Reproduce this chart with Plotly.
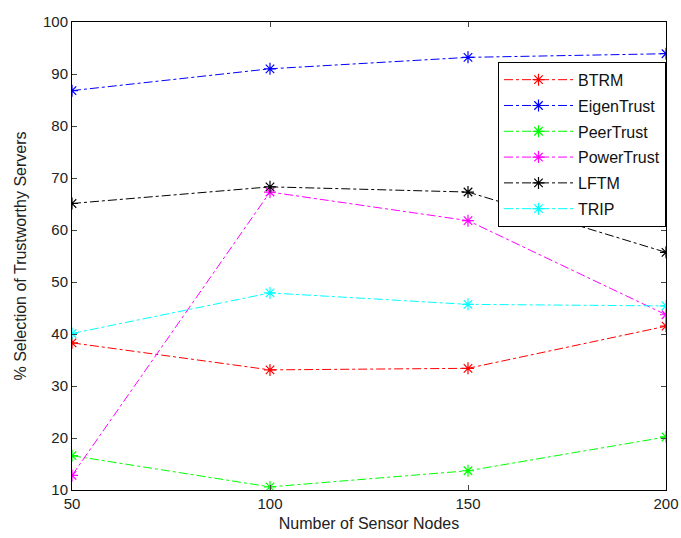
import plotly.graph_objects as go

# Number of sensor nodes in the network
nodes = [50, 100, 150, 200]

# % selection of trustworthy servers per trust model
btrm = [38.3, 33.1, 33.4, 41.5]
eigentrust = [86.8, 91.0, 93.2, 93.9]
peertrust = [16.6, 10.6, 13.7, 20.2]
powertrust = [12.8, 67.3, 61.8, 43.7]
lftm = [65.1, 68.3, 67.3, 55.7]
trip = [40.1, 47.9, 45.7, 45.4]

series = [
    ("BTRM", btrm, "#ff0000"),
    ("EigenTrust", eigentrust, "#0000ff"),
    ("PeerTrust", peertrust, "#00ff00"),
    ("PowerTrust", powertrust, "#ff00ff"),
    ("LFTM", lftm, "#000000"),
    ("TRIP", trip, "#00ffff"),
]

fig = go.Figure()
for i, (name, vals, color) in enumerate(series):
    fig.add_trace(go.Scatter(
        x=nodes, y=vals, name=name, mode="lines+markers",
        line=dict(color=color, width=1, dash="dashdot"),
        marker=dict(symbol="asterisk-open", size=10,
                    line=dict(color=color, width=1.2), color=color),
        legendgroup=f"g{i}",
    ))

family = "Liberation Sans, Arial, sans-serif"
tick_font = dict(family=family, size=15, color="#222222")
title_font = dict(family=family, size=16, color="#222222")

fig.update_layout(
    width=681, height=538,
    margin=dict(l=72, r=15, t=22, b=48),
    paper_bgcolor="white", plot_bgcolor="white",
    font=tick_font,
    showlegend=True,
    legend=dict(
        x=1, y=0.915, xanchor="right", yanchor="top",
        bgcolor="white", bordercolor="#000000", borderwidth=1,
        font=dict(family=family, size=16, color="#111111"),
        itemwidth=69, tracegroupgap=2,
    ),
    xaxis=dict(
        range=[50, 200], tickvals=nodes, ticks="inside", ticklen=5,
        showline=True, linecolor="#000000", linewidth=1, mirror="ticks",
        showgrid=False, zeroline=False, automargin=False,
        title=dict(text="Number of Sensor Nodes", standoff=6, font=title_font),
        tickfont=tick_font,
    ),
    yaxis=dict(
        range=[10, 100], dtick=10, ticks="inside", ticklen=5,
        showline=True, linecolor="#000000", linewidth=1, mirror="ticks",
        showgrid=False, zeroline=False, automargin=False,
        title=dict(text="% Selection of Trustworthy Servers", standoff=12, font=title_font),
        tickfont=tick_font,
    ),
)

fig.write_html("out.html")
